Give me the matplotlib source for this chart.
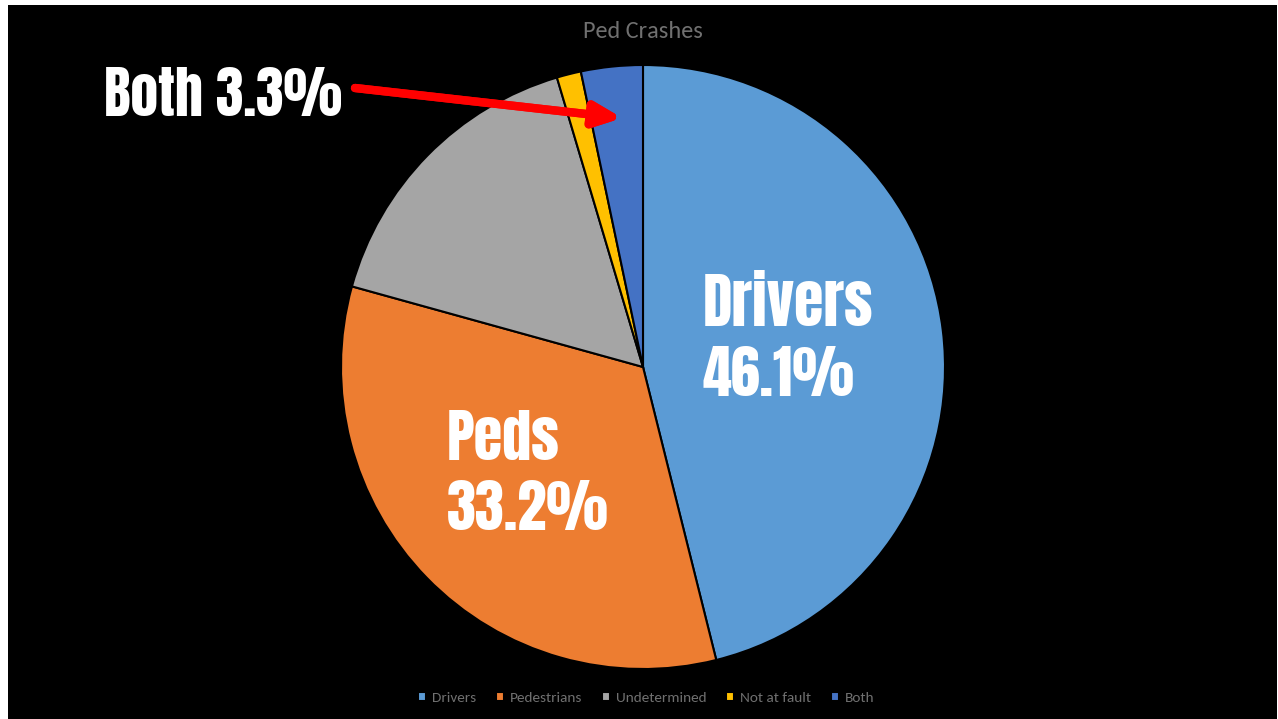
import matplotlib.pyplot as plt
from matplotlib.patches import Rectangle

# data
categories = ["Drivers", "Pedestrians", "Undetermined", "Not at fault", "Both"]
shares = [46.1, 33.2, 16.1, 1.3, 3.3]
colors = ["#5B9BD5", "#ED7D31", "#A5A5A5", "#FFC000", "#4472C4"]

W, H = 1278, 719
fig = plt.figure(figsize=(W / 100, H / 100), dpi=100)
fig.patch.set_facecolor("white")


def fx(x):
    return x / W


def fy(y):
    return 1 - y / H


# black chart area
fig.add_artist(Rectangle((fx(8), 0), fx(1277) - fx(8), fy(5), transform=fig.transFigure,
                         facecolor="black", edgecolor="none", zorder=0))

cx, cy, r = 643, 367, 302
ax = fig.add_axes([fx(cx - r), fy(cy + r), 2 * r / W, 2 * r / H])
wedges, _ = ax.pie(shares, colors=colors, startangle=90, counterclock=False, radius=1,
                   wedgeprops=dict(edgecolor="black", linewidth=1.5))
ax.set_xlim(-1, 1)
ax.set_ylim(-1, 1)
ax.set_aspect("auto")
ax.axis("off")

small_font = ["Carlito", "Open Sans", "DejaVu Sans"]
fig.text(fx(643), fy(32), "Ped Crashes", ha="center", va="center", color="#707070",
         fontsize=17.5, family=small_font)

big = dict(color="white", family=["Anton", "DejaVu Sans"], ha="left", va="baseline")
fig.text(fx(703), fy(326), "Drivers", fontsize=43, **big)
fig.text(fx(703), fy(396), "46.1%", fontsize=42, **big)
fig.text(fx(447), fy(460), "Peds", fontsize=42, **big)
fig.text(fx(447), fy(530), "33.2%", fontsize=42, **big)
fig.text(fx(104), fy(116), "Both 3.3%", fontsize=40, **big)

# red arrow pointing at the Both slice
fig.add_artist(plt.annotate("", xy=(fx(622), fy(118)), xytext=(fx(355), fy(88)),
                            xycoords="figure fraction", textcoords="figure fraction",
                            arrowprops=dict(arrowstyle="-|>,head_length=1.0,head_width=0.45",
                                            mutation_scale=16,
                                            color="#FF0000", lw=6, shrinkA=0, shrinkB=0)))

fig.legend(wedges, categories, loc="center", bbox_to_anchor=(fx(646), fy(698)), ncol=5,
           frameon=False, handlelength=0.55, handleheight=0.55, handletextpad=0.35,
           columnspacing=1.3, prop=dict(family=small_font, size=11),
           labelcolor="#707070")

fig.savefig("out.png", dpi=100, facecolor=fig.get_facecolor())
